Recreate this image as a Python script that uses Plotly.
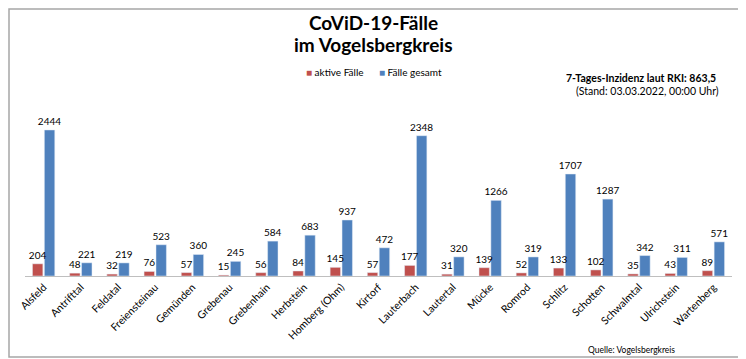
import plotly.graph_objects as go

categories = ["Alsfeld", "Antrifttal", "Feldatal", "Freiensteinau", "Gemünden", "Grebenau",
              "Grebenhain", "Herbstein", "Homberg (Ohm)", "Kirtorf", "Lauterbach", "Lautertal",
              "Mücke", "Romrod", "Schlitz", "Schotten", "Schwalmtal", "Ulrichstein", "Wartenberg"]
aktive = [204, 48, 32, 76, 57, 15, 56, 84, 145, 57, 177, 31, 139, 52, 133, 102, 35, 43, 89]
gesamt = [2444, 221, 219, 523, 360, 245, 584, 683, 937, 472, 2348, 320, 1266, 319, 1707, 1287, 342, 311, 571]

RED, BLUE = "#C0504D", "#4F81BD"
FONT = "Lato"
# the page body adds an 8px offset; size the figure to fit the window
W, H = 738, 351
ML, MR, MT, MB = 17, 14, 92, 83
PW, PH = W - ML - MR, H - MT - MB


def py(p):  # p: pixel row in the window
    return (H + 8 - MB - p) / PH


def px(p):  # p: pixel column in the window
    return (p - 8 - ML) / PW


fig = go.Figure()
# blue first so that the red labels are drawn on top of it
fig.add_trace(go.Bar(x=categories, y=gesamt, name="Fälle gesamt", marker_color=BLUE,
                     offset=0.02, width=0.28,
                     text=gesamt, textposition="outside", cliponaxis=False, constraintext="none",
                     textfont=dict(size=10, color="#000000", family=FONT)))
fig.add_trace(go.Bar(x=categories, y=aktive, name="aktive Fälle", marker_color=RED,
                     offset=-0.30, width=0.28,
                     text=aktive, textposition="outside", cliponaxis=False, constraintext="none",
                     textfont=dict(size=10, color="#000000", family=FONT)))

fig.update_layout(
    width=W, height=H,
    margin=dict(l=ML, r=MR, t=MT, b=MB, autoexpand=False),
    paper_bgcolor="white", plot_bgcolor="white",
    barmode="overlay",
    font=dict(family=FONT, size=10, color="#000000"),
    showlegend=False,
    xaxis=dict(tickangle=-45, showline=True, linecolor="#BFBFBF", linewidth=1, automargin=False,
               ticks="", tickfont=dict(size=10.5, family=FONT), showgrid=False),
    yaxis=dict(range=[0, 2945.6], visible=False, showgrid=False, automargin=False),
)

fig.add_annotation(text="<b>CoViD-19-Fälle</b>", x=px(373), xref="paper", y=py(22), yref="paper",
                   xanchor="center", yanchor="middle", showarrow=False,
                   font=dict(size=19, family=FONT, color="#000000"))
fig.add_annotation(text="<b>im Vogelsbergkreis</b>", x=px(373), xref="paper", y=py(44), yref="paper",
                   xanchor="center", yanchor="middle", showarrow=False,
                   font=dict(size=19, family=FONT, color="#000000"))
fig.add_annotation(
    text=(f"<span style='color:{RED}'>■</span> aktive Fälle      "
          f"<span style='color:{BLUE}'>■</span> Fälle gesamt"),
    x=px(374), xref="paper", y=py(72), yref="paper", xanchor="center", yanchor="middle",
    showarrow=False, font=dict(size=10, family=FONT, color="#000000"))
fig.add_annotation(text="<b>7-Tages-Inzidenz laut RKI: 863,5</b>", x=px(718), xref="paper", xanchor="right",
                   y=py(78), yref="paper", yanchor="middle", showarrow=False,
                   font=dict(size=10.5, family=FONT, color="#000000"))
fig.add_annotation(text="(Stand: 03.03.2022, 00:00 Uhr)", x=px(721), xref="paper", xanchor="right",
                   y=py(91), yref="paper", yanchor="middle", showarrow=False,
                   font=dict(size=10.5, family=FONT, color="#000000"))
fig.add_annotation(text="Quelle: Vogelsbergkreis", x=px(677), xref="paper", xanchor="right",
                   y=py(350), yref="paper", yanchor="middle", showarrow=False,
                   font=dict(size=8.5, family=FONT, color="#000000"))

fig.add_shape(type="rect", xref="paper", yref="paper",
              x0=px(9), x1=px(743), y0=py(357), y1=py(9),
              line=dict(color="#A6A6A6", width=1.5), fillcolor="rgba(0,0,0,0)", layer="below")

fig.write_html("out.html")
